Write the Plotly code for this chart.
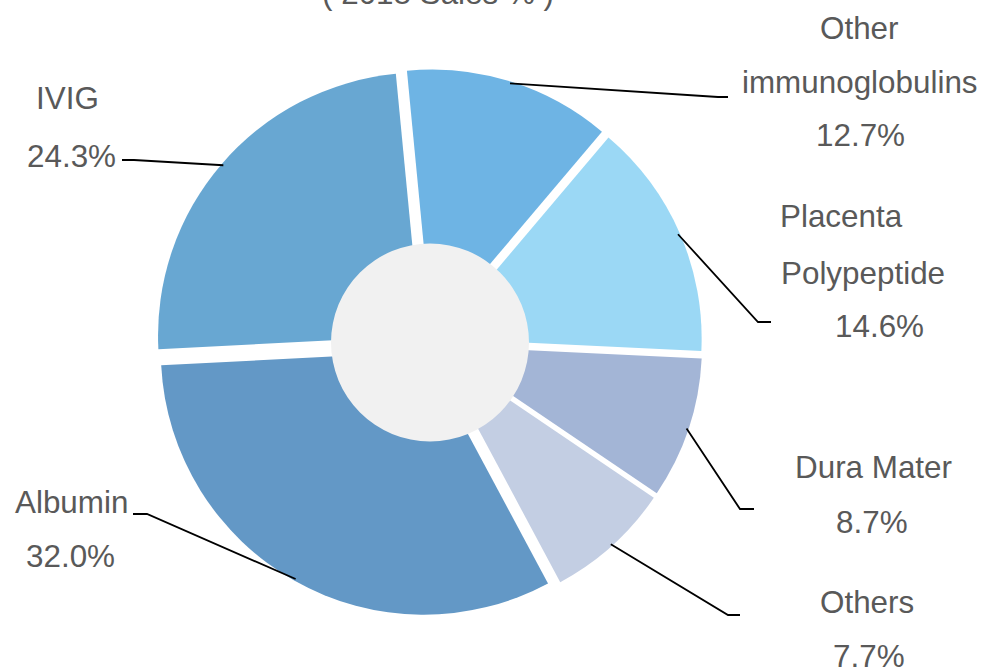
import math
import plotly.graph_objects as go

# ---------------- data ----------------
categories = ["Other immunoglobulins", "Placenta Polypeptide", "Dura Mater",
              "Others", "Albumin", "IVIG"]
shares = [12.7, 14.6, 8.7, 7.7, 32.0, 24.3]
label_lines = [["Other", "immunoglobulins"], ["Placenta", "Polypeptide"],
               ["Dura Mater"], ["Others"], ["Albumin"], ["IVIG"]]
title_text = "( 2018 Sales % )"

# ---------------- styles / layout ----------------
colors = ["#6eb4e4", "#9bd8f5", "#a3b5d6", "#c3cee3", "#6398c6", "#68a7d2"]
hole_color = "#f1f1f1"
text_color = "#595959"
FONT = "Liberation Sans, Arial, sans-serif"
FS = 31.4

W, H = 983, 668
CX, CY = 429, 342.5      # pie centre (px)
R = 263                  # pie radius (px)
PULL = 0.04
HOLE_R = 99
ROTATION = -5.5

# text line centres (px) for each slice: name lines then percentage
text_pos = [
    [(859, 28), (860, 82), (860, 135)],
    [(841.5, 216), (863, 273), (879, 326)],
    [(873.5, 467), (872, 522)],
    [(867, 602), (869, 656)],
    [(71, 502), (70, 556)],
    [(67.5, 98), (71.5, 156.5)],
]
# leader line: (end x, end y, elbow x)
leader = [
    (728, 97, 718),
    (771, 322, 758),
    (754, 509, 740),
    (740, 615, 728),
    (133, 514, 147),
    (122, 160, 134),
]


def px(x):
    return x / W


def py(y):
    return 1 - y / H


fig = go.Figure()

Rd = R * (1 + PULL)
fig.add_trace(go.Pie(
    labels=categories, values=shares, sort=False, direction="clockwise",
    rotation=ROTATION, pull=PULL, textinfo="none",
    marker=dict(colors=colors, line=dict(width=0)),
    domain=dict(x=[px(CX - Rd), px(CX + Rd)], y=[py(CY + Rd), py(CY - Rd)]),
    showlegend=False,
))
fig.add_trace(go.Pie(
    labels=[""], values=[1], textinfo="none", hoverinfo="skip",
    marker=dict(colors=[hole_color], line=dict(width=0)),
    domain=dict(x=[px(CX + 1 - HOLE_R), px(CX + 1 + HOLE_R)],
                y=[py(CY + HOLE_R), py(CY - HOLE_R)]),
    showlegend=False,
))

annotations = []
shapes = []
total = sum(shares)
cum = 0.0
for i, v in enumerate(shares):
    mid = math.radians(ROTATION + (cum + v / 2) / total * 360)
    cum += v
    sx = CX + (R * (1 + PULL) - 2) * math.sin(mid)
    sy = CY - (R * (1 + PULL) - 2) * math.cos(mid)
    ex, ey, elx = leader[i]
    shapes.append(dict(
        type="path", xref="paper", yref="paper",
        path=f"M {px(sx)},{py(sy)} L {px(elx)},{py(ey)} L {px(ex)},{py(ey)}",
        line=dict(color="black", width=1.8),
    ))
    texts = label_lines[i] + [f"{v:.1f}%"]
    for t, (tx, ty) in zip(texts, text_pos[i]):
        annotations.append(dict(
            text=t, x=px(tx), y=py(ty), xref="paper", yref="paper",
            xanchor="center", yanchor="middle", showarrow=False,
            font=dict(family=FONT, size=FS, color=text_color),
        ))

annotations.append(dict(
    text=title_text, x=px(437.5), y=py(-7), xref="paper", yref="paper",
    xanchor="center", yanchor="middle", showarrow=False,
    font=dict(family=FONT, size=FS, color=text_color),
))

fig.update_layout(
    width=W, height=H, autosize=False,
    margin=dict(l=0, r=0, t=0, b=0, pad=0),
    paper_bgcolor="white", plot_bgcolor="white",
    annotations=annotations, shapes=shapes,
)

fig.write_html("out.html")
